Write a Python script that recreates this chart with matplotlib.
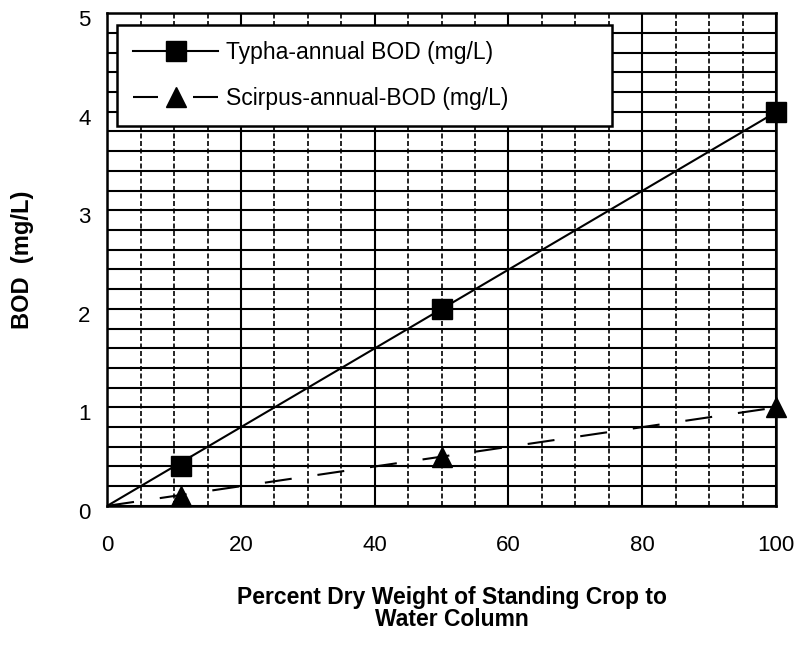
import numpy as np
import matplotlib.pyplot as plt
import matplotlib.transforms as mtransforms
from matplotlib.ticker import MultipleLocator

plt.rcParams['font.family'] = ['Liberation Sans', 'DejaVu Sans']

pct_dry_weight = [11, 50, 100]
typha_bod = [0.4, 2.0, 4.0]
scirpus_bod = [0.1, 0.5, 1.0]

x_ticks = [0, 20, 40, 60, 80, 100]
y_ticks = [0, 1, 2, 3, 4, 5]


def trend_through_origin(x, y):
    x = np.asarray(x, float)
    y = np.asarray(y, float)
    slope = (x * y).sum() / (x * x).sum()
    xs = np.array([0.0, x.max()])
    return xs, slope * xs


fig = plt.figure(figsize=(8, 6.63), dpi=100)
ax = fig.add_axes([0.134, 0.237, 0.836, 0.743])

ax.set_xlim(0, 100)
ax.set_ylim(0, 5)
ax.xaxis.set_minor_locator(MultipleLocator(5))
ax.yaxis.set_minor_locator(MultipleLocator(0.2))
ax.set_xticks(x_ticks)
ax.set_yticks(y_ticks)

ax.grid(which='major', axis='both', color='black', lw=1.5, ls='-')
ax.grid(which='minor', axis='y', color='black', lw=1.5, ls='-')
ax.grid(which='minor', axis='x', color='black', lw=1.2, ls=(0, (3, 1.5)))
ax.set_axisbelow(True)

for s in ax.spines.values():
    s.set_linewidth(1.8)
    s.set_zorder(5)

ax.tick_params(which='both', length=0)
ax.tick_params(axis='x', labelsize=16, pad=21)
ax.tick_params(axis='y', labelsize=16, pad=12)
shift = mtransforms.ScaledTranslation(0, -5 / 100, fig.dpi_scale_trans)
for lab in ax.get_yticklabels():
    lab.set_transform(lab.get_transform() + shift)

tx, ty = trend_through_origin(pct_dry_weight, typha_bod)
sx, sy = trend_through_origin(pct_dry_weight, scirpus_bod)
ax.plot(tx, ty, color='black', lw=1.5, zorder=3)
ax.plot(sx, sy, color='black', lw=1.5, dashes=(13, 12.5), zorder=3)
ax.plot(pct_dry_weight, typha_bod, ls='none', marker='s', ms=14.5,
        color='black', zorder=4, clip_on=False)
ax.plot(pct_dry_weight, scirpus_bod, ls='none', marker='^', ms=15,
        color='black', zorder=4, clip_on=False)

# legend entries: line + marker
h1, = ax.plot([], [], color='black', lw=1.5, marker='s', ms=15,
              label='Typha-annual BOD (mg/L)')
h2, = ax.plot([], [], color='black', lw=1.5, marker='^', ms=15,
              dashes=(12, 16.8), label='Scirpus-annual-BOD (mg/L)')
leg = ax.legend(handles=[h1, h2], loc='upper left',
                bbox_to_anchor=(0.015, 0.769, 0.74, 0.207), mode='expand',
                fontsize=16.5, numpoints=1, handlelength=3.7, handletextpad=0.35,
                borderpad=0.7, labelspacing=1.0, fancybox=False,
                framealpha=1, borderaxespad=0)
leg.get_frame().set_edgecolor('black')
leg.get_frame().set_linewidth(1.8)
leg.set_zorder(6)

ax.set_xlabel('Percent Dry Weight of Standing Crop to\nWater Column',
              fontsize=16.5, fontweight='bold', linespacing=0.95)
ax.xaxis.set_label_coords(0.516, -0.162)
ax.xaxis.label.set_va('top')
ax.set_ylabel('BOD  (mg/L)', fontsize=17, fontweight='bold')
ax.yaxis.set_label_coords(-0.126, 0.5)
ax.yaxis.label.set_va('center')

fig.savefig('out.png', dpi=100)
